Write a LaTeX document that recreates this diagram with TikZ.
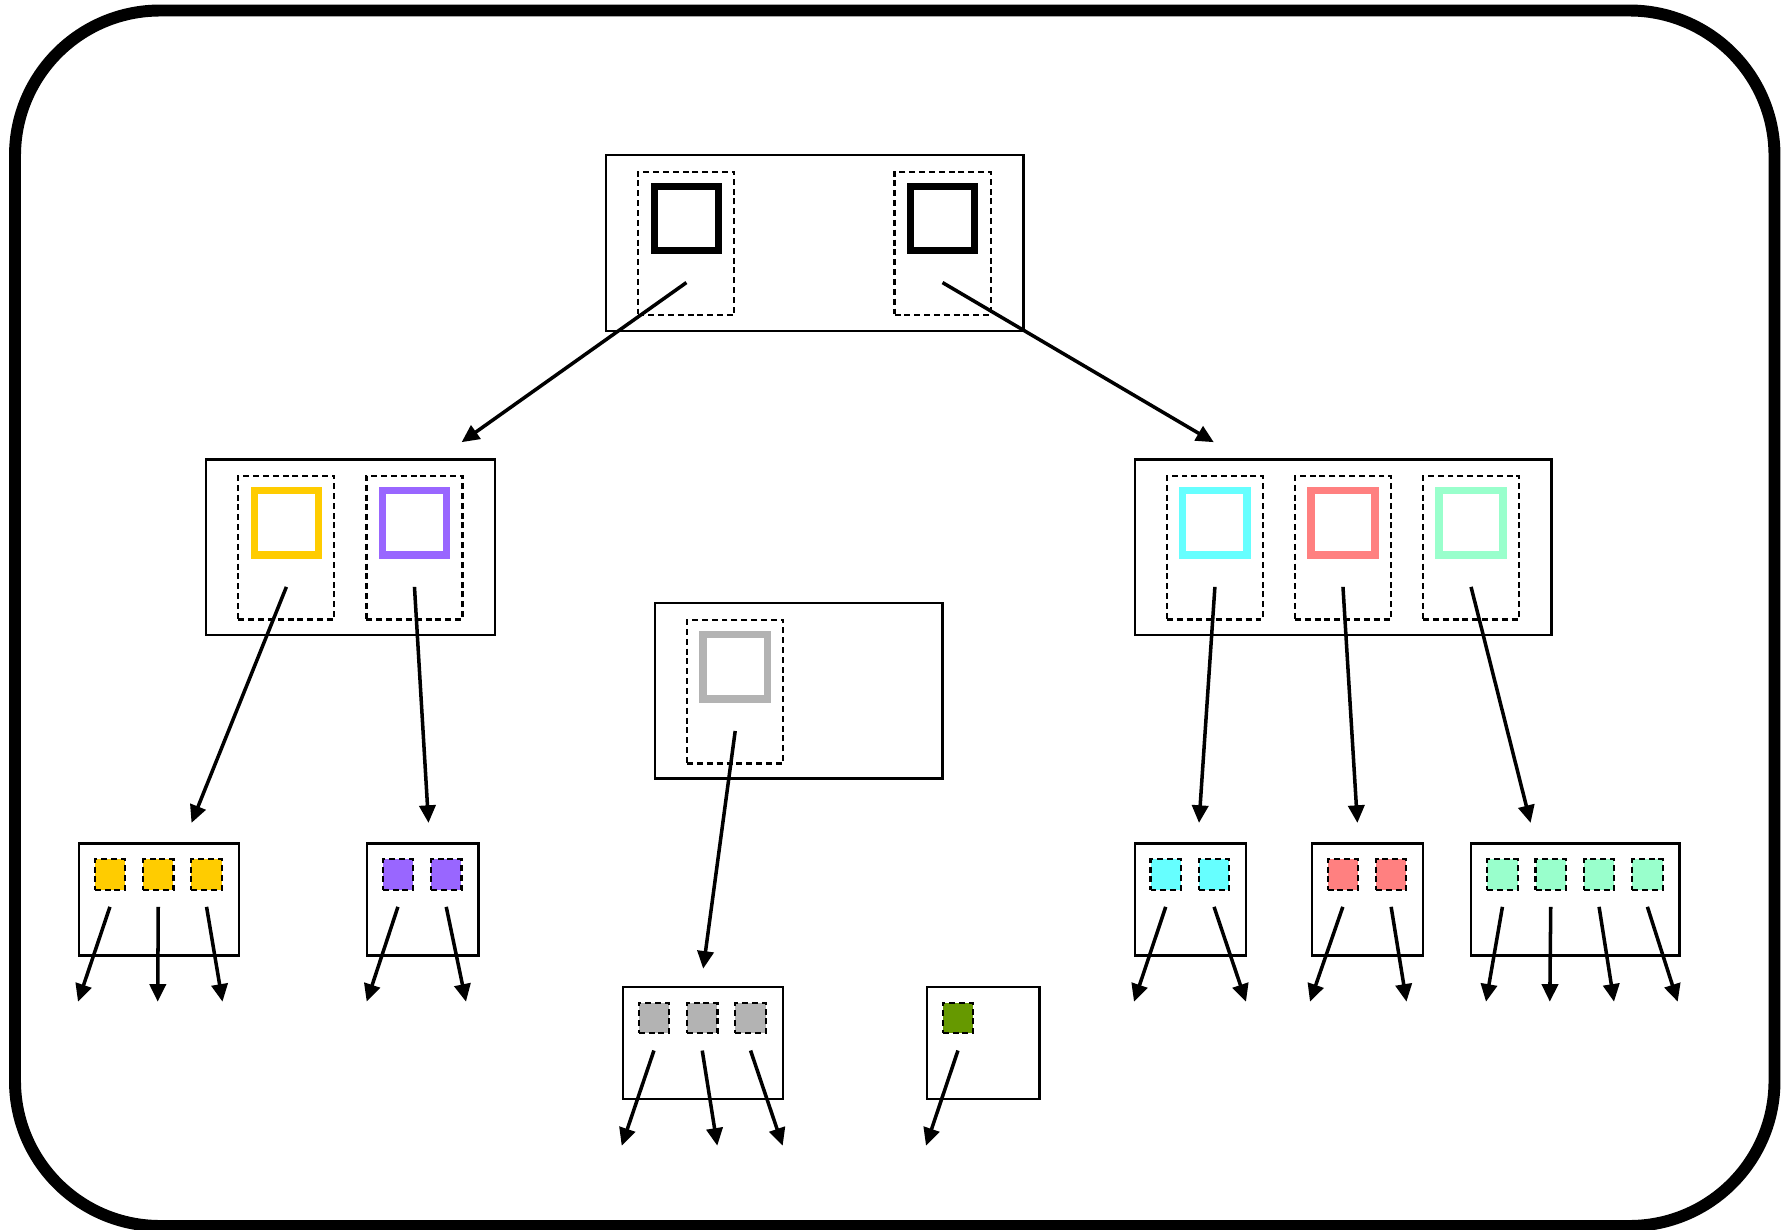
\documentclass[tikz,border=0pt]{standalone}
\usetikzlibrary{arrows.meta}
\definecolor{yel}{HTML}{FFCC00}
\definecolor{vio}{HTML}{9966FF}
\definecolor{aqua}{HTML}{66FFFF}
\definecolor{rose}{HTML}{FF8080}
\definecolor{mint}{HTML}{99FFCC}
\definecolor{ash}{HTML}{B3B3B3}
\definecolor{leafgreen}{HTML}{669900}
\begin{document}
\begin{tikzpicture}[x=0.01cm,y=-0.01cm,
    box/.style={draw,line width=0.65pt,inner sep=0pt,anchor=north west,minimum height=1.755cm},
    cell/.style={draw,dash pattern=on 1.7pt off 1.1pt,line width=0.6pt,inner sep=0pt,anchor=north west,minimum width=0.96cm,minimum height=1.435cm},
    key/.style={draw=#1,line width=2.1pt,inner sep=0pt,minimum size=0.642cm},
    leaf/.style={draw,line width=0.65pt,inner sep=0pt,anchor=north west,minimum height=1.12cm},
    entry/.style={draw,fill=#1,dash pattern=on 1.7pt off 1.1pt,line width=0.6pt,inner sep=0pt,minimum size=0.304cm},
    link/.style={-{Triangle[length=5pt,width=4.6pt]},line width=1pt}]
\useasboundingbox (0,0) rectangle (1787,1230);
% frame
\draw[line width=3.4pt,rounded corners=1.45cm] (15,10.5) rectangle (1774.5,1226);

% root node
\node[box,minimum width=4.17cm] (root) at (605,154) {};
\node[cell] (rc1) at ([xshift=0.323cm,yshift=-0.165cm]root.north west) {};
\node[cell] (rc3) at ([xshift=2.883cm,yshift=-0.165cm]root.north west) {};
\node[key=black] (rk1) at ([yshift=-0.479cm]rc1.north) {};
\node[key=black] (rk3) at ([yshift=-0.479cm]rc3.north) {};

% inner nodes
\node[box,minimum width=2.885cm] (lbox) at (205,458.3) {};
\node[cell] (lc1) at ([xshift=0.323cm,yshift=-0.165cm]lbox.north west) {};
\node[cell] (lc2) at ([xshift=1.603cm,yshift=-0.165cm]lbox.north west) {};
\node[key=yel] (lk1) at ([yshift=-0.479cm]lc1.north) {};
\node[key=vio] (lk2) at ([yshift=-0.479cm]lc2.north) {};

\node[box,minimum width=4.165cm] (rbox) at (1133.5,458.3) {};
\node[cell] (rbc1) at ([xshift=0.323cm,yshift=-0.165cm]rbox.north west) {};
\node[cell] (rbc2) at ([xshift=1.603cm,yshift=-0.165cm]rbox.north west) {};
\node[cell] (rbc3) at ([xshift=2.883cm,yshift=-0.165cm]rbox.north west) {};
\node[key=aqua] (rbk1) at ([yshift=-0.479cm]rbc1.north) {};
\node[key=rose] (rbk2) at ([yshift=-0.479cm]rbc2.north) {};
\node[key=mint] (rbk3) at ([yshift=-0.479cm]rbc3.north) {};

\node[box,minimum width=2.87cm] (cbox) at (654.2,601.8) {};
\node[cell] (cc1) at ([xshift=0.319cm,yshift=-0.171cm]cbox.north west) {};
\node[key=ash] (ck1) at ([yshift=-0.479cm]cc1.north) {};

% leaves
\node[leaf,minimum width=1.6cm] (ly) at (77.7,842.3) {};
\node[leaf,minimum width=1.115cm] (lv) at (365.7,842.3) {};
\node[leaf,minimum width=1.115cm] (la) at (1133.5,842.3) {};
\node[leaf,minimum width=1.115cm] (lr) at (1310.6,842.3) {};
\node[leaf,minimum width=2.08cm] (lm) at (1470.2,842.3) {};
\node[leaf,minimum width=1.6cm] (lg) at (621.7,986) {};
\node[leaf,minimum width=1.125cm] (lo) at (925.7,986) {};

\foreach \l/\c/\n in {ly/yel/3,lv/vio/2,la/aqua/2,lr/rose/2,lm/mint/4,lg/ash/3,lo/leafgreen/1}
  \foreach \i in {1,...,\n}
    \node[entry=\c] (\l\i) at ([xshift=\i*0.483cm-0.161cm,yshift=-0.322cm]\l.north west) {};

% links between levels
\coordinate (e1) at (461.6,442.2);
\coordinate (e2) at (1213.8,442.2);
\draw[link] ([yshift=-1.12cm]rc1.north) -- (e1);
\draw[link] ([yshift=-1.12cm]rc3.north) -- (e2);

\coordinate (e3) at (191.5,822.9);
\coordinate (e4) at (428.5,822.9);
\coordinate (e5) at (1199,822.9);
\coordinate (e6) at (1357.4,822.9);
\coordinate (e7) at (1530.6,822.9);
\coordinate (e8) at (703.2,968.7);
\draw[link] ([yshift=-1.12cm]lc1.north) -- (e3);
\draw[link] ([yshift=-1.12cm]lc2.north) -- (e4);
\draw[link] ([yshift=-1.12cm]rbc1.north) -- (e5);
\draw[link] ([yshift=-1.12cm]rbc2.north) -- (e6);
\draw[link] ([yshift=-1.12cm]rbc3.north) -- (e7);
\draw[link] ([yshift=-1.12cm]cc1.north) -- (e8);

% links out of the leaves
\foreach \l/\i/\x/\y in {ly/1/78/1001.7,ly/2/157.7/1001.7,ly/3/222.5/1001.7,
    lv/1/366.7/1001.7,lv/2/466/1001.7,la/1/1134/1001.7,la/2/1246/1001.7,
    lr/1/1310/1001.7,lr/2/1406.5/1001.7,lm/1/1486/1001.7,lm/2/1549.8/1001.7,
    lm/3/1614/1001.7,lm/4/1677.7/1001.7,lg/1/621.7/1145.7,lg/2/717.3/1145.7,
    lg/3/782.7/1145.7,lo/1/926/1145.7}{
  \coordinate (t\l\i) at (\x,\y);
  \draw[link] ([yshift=-0.323cm]\l\i.center) -- (t\l\i);
}
\end{tikzpicture}
\end{document}
